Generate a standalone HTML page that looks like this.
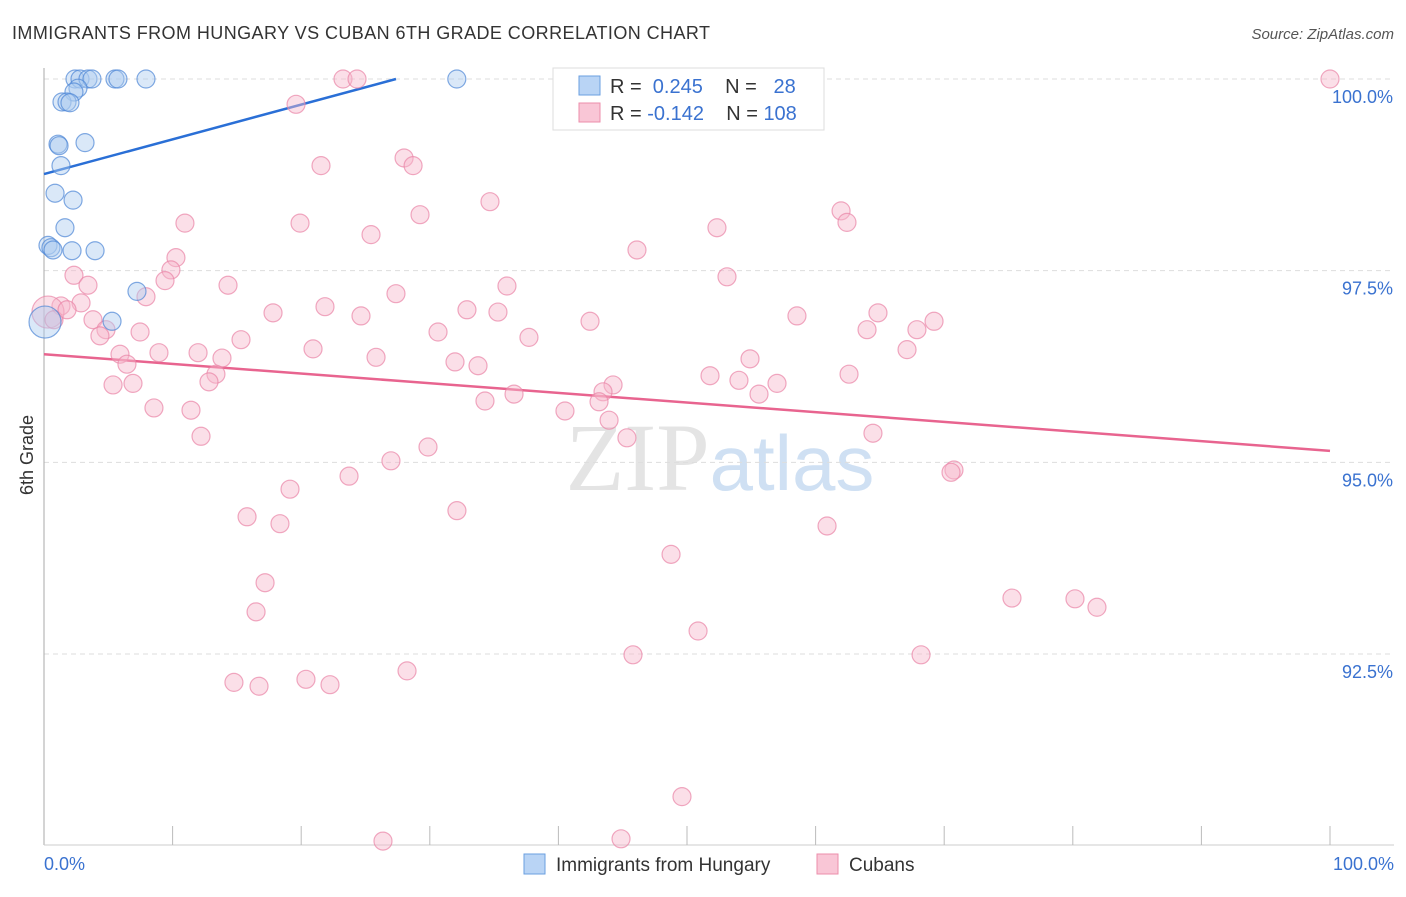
<!DOCTYPE html>
<html><head><meta charset="utf-8"><style>
body{margin:0;background:#fff;font-family:"Liberation Sans",sans-serif;}
</style></head><body>
<svg id="chart" width="1406" height="892" xmlns="http://www.w3.org/2000/svg" font-family="Liberation Sans, sans-serif">
<text x="12" y="39" font-size="18" fill="#333" textLength="698" lengthAdjust="spacing">IMMIGRANTS FROM HUNGARY VS CUBAN 6TH GRADE CORRELATION CHART</text>
<text x="1394" y="39" font-size="15" fill="#555" font-style="italic" text-anchor="end">Source: ZipAtlas.com</text>
<text x="720" y="490" font-size="96" text-anchor="middle" fill="#e4e4e4" font-family="Liberation Serif, serif">ZIP<tspan fill="#cfe0f3" font-family="Liberation Sans, sans-serif" font-size="78">atlas</tspan></text>
<g id="grid"></g><g id="axes"></g><g id="lines"></g><g id="pts"></g>
<text transform="translate(33,455) rotate(-90)" font-size="18" fill="#333" text-anchor="middle">6th Grade</text>
<g>
<rect x="553" y="68" width="271" height="62" fill="#fff" stroke="#ddd"/>
<rect x="579" y="76" width="21" height="19" fill="#b9d4f5" stroke="#6a9fe0"/>
<rect x="579" y="103" width="21" height="19" fill="#f9c6d6" stroke="#ec8eab"/>
<text x="610" y="93" font-size="20" fill="#333">R = <tspan fill="#3a72d0">&#160;0.245</tspan>&#160;&#160;&#160; N = <tspan fill="#3a72d0">&#160;&#160;28</tspan></text>
<text x="610" y="120" font-size="20" fill="#333">R = <tspan fill="#3a72d0">-0.142</tspan>&#160;&#160;&#160; N = <tspan fill="#3a72d0">108</tspan></text>
</g>
<g>
<rect x="524" y="854" width="21" height="20" fill="#b9d4f5" stroke="#6a9fe0"/>
<text x="556" y="871" font-size="19" fill="#333">Immigrants from Hungary</text>
<rect x="817" y="854" width="21" height="20" fill="#f9c6d6" stroke="#ec8eab"/>
<text x="849" y="871" font-size="19" fill="#333">Cubans</text>
</g>
</svg>
<script>
const yTicks=[100,97.5,95,92.5];
const yTickLabels=["100.0%","97.5%","95.0%","92.5%"];
const xTickLabels=["0.0%","100.0%"];
const blueX=[2.41,2.80,3.42,3.73,5.52,5.75,7.93,32.1,2.64,2.33,1.40,1.79,2.02,1.09,1.17,3.19,1.32,0.86,2.26,1.63,0.31,0.54,0.70,2.18,3.97,7.23,5.29,0.08];
const blueY=[100,100,100,100,100,100,100,100,99.88,99.83,99.70,99.70,99.69,99.15,99.13,99.17,98.87,98.51,98.42,98.06,97.83,97.80,97.77,97.76,97.76,97.23,96.84,96.83];
const pinkX=[23.25,24.34,100,19.6,28.0,28.7,21.54,34.68,29.24,61.98,62.44,10.96,19.91,52.33,25.43,46.11,10.26,9.87,2.33,9.41,53.11,3.42,14.31,36.0,27.37,7.93,2.88,1.32,21.85,32.89,35.30,17.81,24.65,64.85,58.55,42.46,69.21,3.81,64.0,67.88,4.82,7.47,30.64,4.35,37.71,15.32,20.92,67.11,5.91,8.94,11.98,25.82,13.84,54.9,31.96,33.75,6.45,13.37,62.6,51.79,12.83,54.04,57.0,5.37,6.92,44.25,43.47,55.6,36.55,43.16,34.29,8.55,11.43,40.51,43.94,12.21,45.33,64.46,29.86,26.98,70.76,70.53,23.72,19.13,32.11,15.79,18.35,60.89,48.76,17.19,75.27,80.17,81.88,16.49,50.86,45.8,68.2,28.23,14.77,16.72,20.37,22.24,49.61,26.36,44.87,0.31,0.78,1.79];
const pinkY=[100,100,100,99.67,98.97,98.87,98.87,98.40,98.23,98.28,98.13,98.12,98.12,98.06,97.97,97.77,97.67,97.51,97.44,97.37,97.42,97.31,97.31,97.30,97.20,97.16,97.08,97.04,97.03,96.99,96.96,96.95,96.91,96.95,96.91,96.84,96.84,96.86,96.73,96.73,96.73,96.70,96.70,96.65,96.63,96.60,96.48,96.47,96.41,96.43,96.43,96.37,96.36,96.35,96.31,96.26,96.28,96.15,96.15,96.13,96.05,96.07,96.03,96.01,96.03,96.01,95.92,95.89,95.89,95.79,95.80,95.71,95.68,95.67,95.55,95.34,95.32,95.38,95.20,95.02,94.90,94.87,94.82,94.65,94.37,94.29,94.20,94.17,93.80,93.43,93.23,93.22,93.11,93.05,92.80,92.49,92.49,92.28,92.13,92.08,92.17,92.10,90.64,90.06,90.09,96.96,96.86,96.99];
const blueLine=[98.76,100,0,27.37];
const pinkLine=[96.41,95.15,0,100];
const NS="http://www.w3.org/2000/svg";
const X=v=>44+v*12.86, Y=v=>79+(100-v)*76.67;
function mk(p,t,a){const e=document.createElementNS(NS,t);for(const k in a)e.setAttribute(k,a[k]);document.getElementById(p).appendChild(e);return e;}
yTicks.forEach((t,i)=>{
 const g=mk('grid','line',{x1:44,x2:1394,y1:Y(t),y2:Y(t),stroke:'#ddd','stroke-dasharray':'5,4'});
 
 
 const l=mk('grid','text',{x:1393,y:Y(t)+24,'font-size':18,fill:'#3a72d0','text-anchor':'end'});l.textContent=yTickLabels[i];
 
 
});
const ax=mk('axes','line',{x1:44,x2:44,y1:68,y2:845,stroke:'#aaa'});


const bx=mk('axes','line',{x1:44,x2:1394,y1:845,y2:845,stroke:'#ccc'});


for(let i=1;i<=10;i++){const t=mk('axes','line',{x1:X(i*10),x2:X(i*10),y1:826,y2:845,stroke:'#bbb'});
 
 }
[[0,'start',44],[100,'end',1394]].forEach((d,i)=>{const t=mk('axes','text',{x:d[2],y:870,'font-size':18,fill:'#3a72d0','text-anchor':d[1]});t.textContent=xTickLabels[i];
 
 });
function pts(xs,ys,f,s,name,bigIdx){xs.forEach((x,i)=>{const big=(i===bigIdx);const c=mk('pts','circle',{cx:X(x),cy:Y(ys[i]),r:big?16:9,fill:f,'fill-opacity':0.45,stroke:s,'stroke-opacity':0.7,'stroke-width':1.2});
 
 });}
pts(pinkX,pinkY,'#f7b8cc','#e985a6','cubans-point',105);
pts(blueX,blueY,'#aecbf0','#4d86d6','hungary-point',27);
const bl=mk('lines','line',{x1:X(blueLine[2]),y1:Y(blueLine[0]),x2:X(blueLine[3]),y2:Y(blueLine[1]),stroke:'#2a6fd6','stroke-width':2.5});


const pl=mk('lines','line',{x1:X(pinkLine[2]),y1:Y(pinkLine[0]),x2:X(pinkLine[3]),y2:Y(pinkLine[1]),stroke:'#e8648f','stroke-width':2.5});


</script>
</body></html>
